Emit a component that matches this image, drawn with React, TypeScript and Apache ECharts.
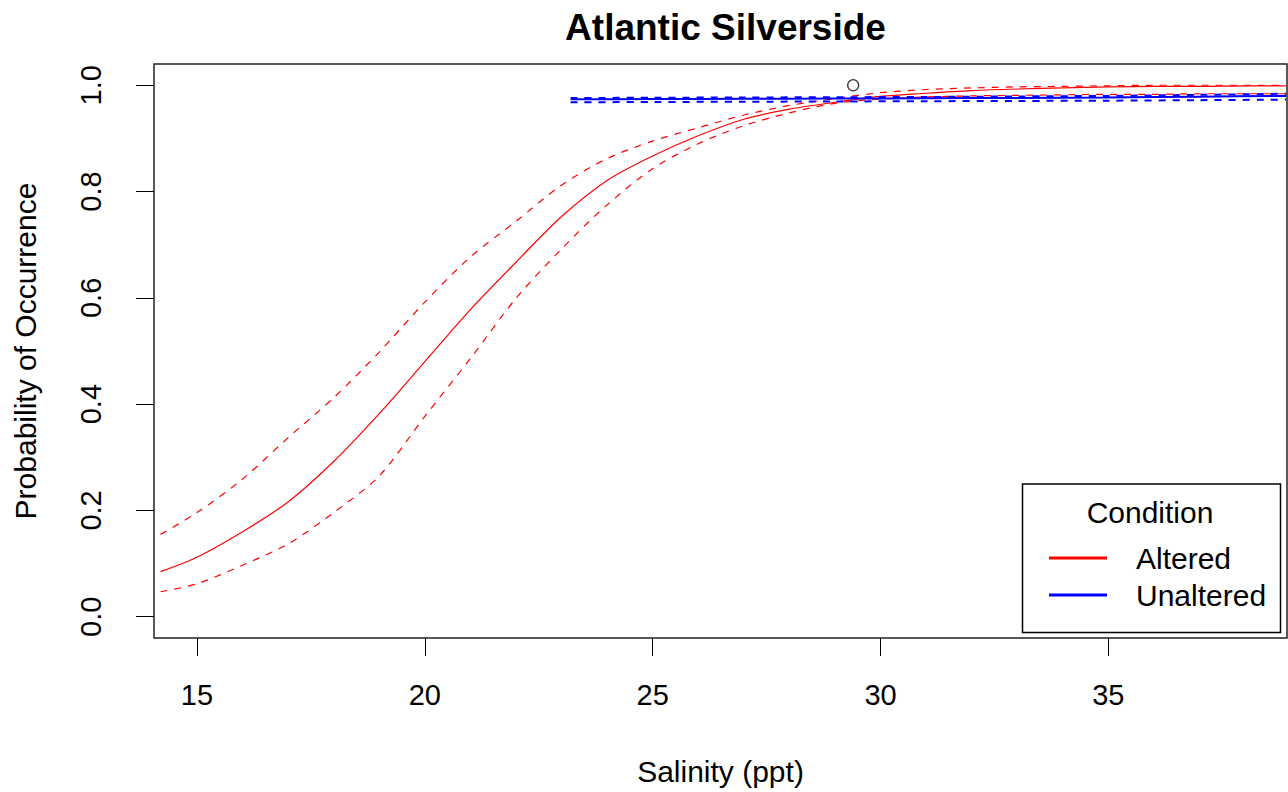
import React, { useEffect, useRef } from "react";
import * as echarts from "echarts";

// Salinity grid for the Altered (red) curves
const alteredX = [14.2, 15, 16, 17, 18, 19, 20, 21, 22, 23, 24, 25, 26, 27, 28, 29, 30, 31, 32, 33, 34, 35, 36, 37, 38, 38.9];
const alteredFit = [0.085, 0.112, 0.160, 0.216, 0.292, 0.382, 0.480, 0.578, 0.667, 0.753, 0.821, 0.867, 0.905, 0.936, 0.955, 0.968, 0.979, 0.985, 0.990, 0.993, 0.995, 0.997, 0.998, 0.998, 0.999, 0.999];
const alteredUpper = [0.155, 0.196, 0.259, 0.337, 0.412, 0.498, 0.592, 0.677, 0.744, 0.812, 0.862, 0.895, 0.920, 0.944, 0.962, 0.975, 0.986, 0.992, 0.995, 0.997, 0.998, 0.999, 1.0, 1.0, 1.0, 1.0];
const alteredLower = [0.047, 0.062, 0.097, 0.137, 0.196, 0.265, 0.377, 0.486, 0.599, 0.692, 0.775, 0.843, 0.890, 0.924, 0.948, 0.966, 0.974, 0.978, 0.980, 0.981, 0.982, 0.983, 0.983, 0.984, 0.984, 0.984];

// Salinity grid for the Unaltered (blue) curves
const unalteredX = [23.2, 25, 27, 29, 31, 33, 35, 37, 38.9];
const unalteredFit = [0.9735, 0.974, 0.9745, 0.975, 0.9755, 0.9762, 0.977, 0.9785, 0.98];
const unalteredUpper = [0.976, 0.9765, 0.977, 0.9775, 0.978, 0.979, 0.98, 0.982, 0.984];
const unalteredLower = [0.968, 0.9685, 0.969, 0.9695, 0.97, 0.9705, 0.971, 0.972, 0.973];

// Observed point
const obsX = [29.4];
const obsY = [1.0];

const xTicks = [15, 20, 25, 30, 35];
const yTicks = [0, 0.2, 0.4, 0.6, 0.8, 1.0];

const FONT = "Liberation Sans, Arial, Helvetica, sans-serif";

const pairs = (xs: number[], ys: number[]) => xs.map((x, i) => [x, ys[i]]);

export default function App() {
  const ref = useRef<HTMLDivElement>(null);
  useEffect(() => {
    if (!ref.current) return;
    const chart = echarts.init(ref.current, null, { renderer: "svg" });
    const red = "#ff0000";
    const blue = "#0000ff";
    const lineSeries = (name: string, xs: number[], ys: number[], color: string, width: number, dashed: boolean, z: number) => ({
      name,
      type: "line",
      data: pairs(xs, ys),
      symbol: "none",
      smooth: 0.3,
      z,
      lineStyle: { color, width, type: dashed ? [7, 7] : "solid" },
      itemStyle: { color },
      emphasis: { disabled: true },
    });
    chart.setOption({
      animation: false,
      backgroundColor: "#ffffff",
      title: {
        text: "Atlantic Silverside",
        left: 720.5,
        top: 4,
        textAlign: "center",
        textStyle: { fontFamily: FONT, fontWeight: "bold", fontSize: 37, color: "#000" },
      },
      grid: {
        left: 154,
        top: 64,
        width: 1133,
        height: 574,
        show: true,
        borderColor: "#222",
        borderWidth: 1.5,
        backgroundColor: "transparent",
        containLabel: false,
      },
      xAxis: {
        type: "value",
        min: 14.057,
        max: 38.92,
        name: "Salinity (ppt)",
        nameLocation: "middle",
        nameGap: 118,
        nameTextStyle: { fontFamily: FONT, fontSize: 30, color: "#000" },
        axisLine: { show: false, onZero: false },
        axisTick: { show: true, length: 18, customValues: xTicks, lineStyle: { color: "#000", width: 1 } },
        axisLabel: {
          customValues: xTicks,
          margin: 42,
          fontFamily: FONT,
          fontSize: 29,
          color: "#000",
        },
        splitLine: { show: false },
      },
      yAxis: {
        type: "value",
        min: -0.04,
        max: 1.04,
        name: "Probability of Occurrence",
        nameLocation: "middle",
        nameGap: 114,
        nameTextStyle: { fontFamily: FONT, fontSize: 30, color: "#000" },
        axisLine: { show: false, onZero: false },
        axisTick: { show: true, length: 18, customValues: yTicks, lineStyle: { color: "#000", width: 1 } },
        axisLabel: {
          customValues: yTicks,
          rotate: 90,
          margin: 49,
          fontFamily: FONT,
          fontSize: 29,
          color: "#000",
          formatter: (v: number) => v.toFixed(1),
        },
        splitLine: { show: false },
      },
      legend: {
        data: [
          { name: "Altered", icon: "rect" },
          { name: "Unaltered", icon: "rect" },
        ],
        orient: "vertical",
        left: 1049,
        top: 543,
        z: 20,
        itemWidth: 58,
        itemHeight: 3,
        itemGap: 7,
        padding: 0,
        selectedMode: false,
        textStyle: { fontFamily: FONT, fontSize: 30, color: "#000", padding: [4, 0, 0, 24] },
      },
      graphic: [
        {
          type: "rect",
          shape: { x: 1022.5, y: 484, width: 258, height: 148.5 },
          style: { fill: "#fff", stroke: "#000", lineWidth: 1.5 },
          z: 1,
        },
        {
          type: "text",
          x: 1150,
          y: 512,
          style: {
            text: "Condition",
            font: `30px ${FONT}`,
            fill: "#000",
            textAlign: "center",
            textVerticalAlign: "middle",
          },
          z: 2,
        },
      ],
      series: [
        lineSeries("Altered", alteredX, alteredFit, red, 1.2, false, 2),
        lineSeries("Altered upper", alteredX, alteredUpper, red, 1.2, true, 2),
        lineSeries("Altered lower", alteredX, alteredLower, red, 1.2, true, 2),
        lineSeries("Unaltered", unalteredX, unalteredFit, blue, 2, false, 3),
        lineSeries("Unaltered upper", unalteredX, unalteredUpper, blue, 2, true, 3),
        lineSeries("Unaltered lower", unalteredX, unalteredLower, blue, 2, true, 3),
        {
          name: "Observed",
          type: "scatter",
          data: pairs(obsX, obsY),
          symbol: "circle",
          symbolSize: 11,
          z: 4,
          itemStyle: { color: "#fff", borderColor: "#000", borderWidth: 1.3 },
          emphasis: { disabled: true },
        },
      ],
    });
    return () => chart.dispose();
  }, []);
  return <div ref={ref} style={{ position: "fixed", left: 0, top: 0, width: 1288, height: 792 }} />;
}
